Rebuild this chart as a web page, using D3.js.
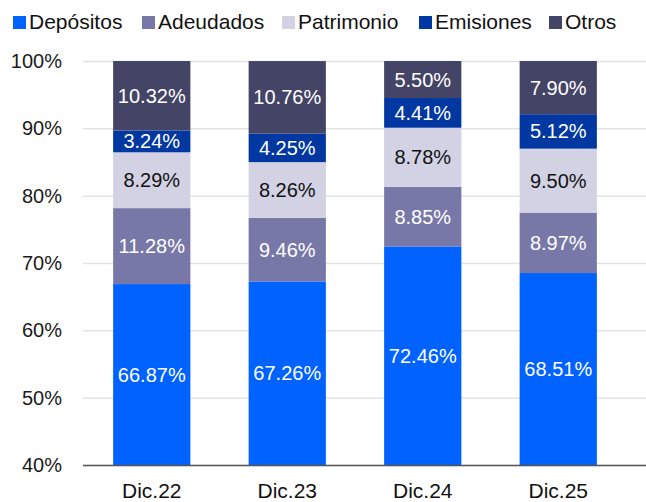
<!DOCTYPE html>
<html lang="es">
  <head>
    <meta charset="utf-8" />
    <title>Estructura de fondeo</title>
    <script src="https://d3js.org/d3.v7.min.js"></script>
    <style type="text/css">
      body { margin: 0; background: #fff; }
      text { font-family: 'Liberation Sans', Arial, sans-serif; }
    </style>
  </head>
  <body>
    <script type="text/javascript">
      // Data
      const periods = ['Dic.22', 'Dic.23', 'Dic.24', 'Dic.25'];
      const seriesNames = ['Depósitos', 'Adeudados', 'Patrimonio', 'Emisiones', 'Otros'];
      const depositos = [66.87, 67.26, 72.46, 68.51];
      const adeudados = [11.28, 9.46, 8.85, 8.97];
      const patrimonio = [8.29, 8.26, 8.78, 9.5];
      const emisiones = [3.24, 4.25, 4.41, 5.12];
      const otros = [10.32, 10.76, 5.5, 7.9];
      const yTicks = [40, 50, 60, 70, 80, 90, 100];

      const colours = ['#0062ff', '#7878a8', '#d2d2e4', '#0037a1', '#444466'];
      const labelColours = ['#fff', '#fff', '#111', '#fff', '#fff'];

      const w = 646;
      const h = 502;
      const padLeft = 83;
      const padTop = 61;
      const baseY = 465;

      const rows = periods.map((p, i) => ({
        period: p,
        'Depósitos': depositos[i],
        'Adeudados': adeudados[i],
        'Patrimonio': patrimonio[i],
        'Emisiones': emisiones[i],
        'Otros': otros[i]
      }));

      const stack = d3.stack().keys(seriesNames);
      const series = stack(rows);

      const xScale = d3
        .scaleBand()
        .domain(periods)
        .range([84, 626])
        .paddingInner(0.43)
        .paddingOuter(0.215);

      const yScale = d3
        .scaleLinear()
        .domain([40, 100])
        .range([baseY, padTop]);

      const svg = d3
        .select('body')
        .append('svg')
        .attr('width', w)
        .attr('height', h);

      // Gridlines + y labels
      const yAxis = d3
        .axisLeft(yScale)
        .tickValues(yTicks)
        .tickSize(-(w - padLeft))
        .tickFormat(d => d + '%');

      svg
        .append('g')
        .attr('class', 'y axis')
        .attr('transform', `translate(${padLeft},0)`)
        .call(yAxis)
        .call(g => g.select('.domain').remove())
        .call(g => g.selectAll('line').attr('stroke', '#e3e3e3').attr('stroke-width', 1.5))
        .call(g =>
          g
            .selectAll('text')
            .attr('x', -21)
            .attr('fill', '#1a1a1a')
            .style('font-size', '20px')
        );

      // Bars
      const groups = svg
        .selectAll('g.serie')
        .data(series)
        .enter()
        .append('g')
        .attr('class', 'serie')
        .attr('fill', (d, i) => colours[i]);

      const lo = d => Math.max(d[0], 40);

      groups
        .selectAll('rect')
        .data(d => d)
        .enter()
        .append('rect')
        .attr('x', d => xScale(d.data.period))
        .attr('y', d => yScale(d[1]))
        .attr('width', xScale.bandwidth())
        .attr('height', d => yScale(lo(d)) - yScale(d[1]));

      // Segment labels
      series.forEach((s, si) => {
        svg
          .append('g')
          .selectAll('text')
          .data(s)
          .enter()
          .append('text')
          .attr('x', d => xScale(d.data.period) + xScale.bandwidth() / 2)
          .attr('y', d => yScale((lo(d) + d[1]) / 2))
          .attr('dy', '0.35em')
          .attr('text-anchor', 'middle')
          .attr('fill', labelColours[si])
          .style('font-size', '20px')
          .text(d => (d[1] - d[0]).toFixed(2) + '%');
      });

      // Bottom axis
      const xAxis = d3.axisBottom(xScale).tickSize(0);
      svg
        .append('g')
        .attr('class', 'x axis')
        .attr('transform', `translate(0,${baseY})`)
        .call(xAxis)
        .call(g => g.select('.domain').attr('d', `M${padLeft},0.5H${w}`).attr('stroke', '#555').attr('stroke-width', 1.5))
        .call(g =>
          g
            .selectAll('text')
            .attr('y', 0)
            .attr('dy', 33)
            .attr('fill', '#111')
            .style('font-size', '21px')
        );

      // Legend
      const legendX = [13, 142, 282, 419, 549];
      const legend = svg
        .selectAll('g.legend')
        .data(seriesNames)
        .enter()
        .append('g')
        .attr('class', 'legend')
        .attr('transform', (d, i) => `translate(${legendX[i]},15)`);

      legend
        .append('rect')
        .attr('width', 13)
        .attr('height', 13)
        .attr('y', 1)
        .attr('fill', (d, i) => colours[i]);

      legend
        .append('text')
        .attr('x', 16)
        .attr('y', 13.5)
        .attr('fill', '#111')
        .style('font-size', '21px')
        .text(d => d);
    </script>
  </body>
</html>
